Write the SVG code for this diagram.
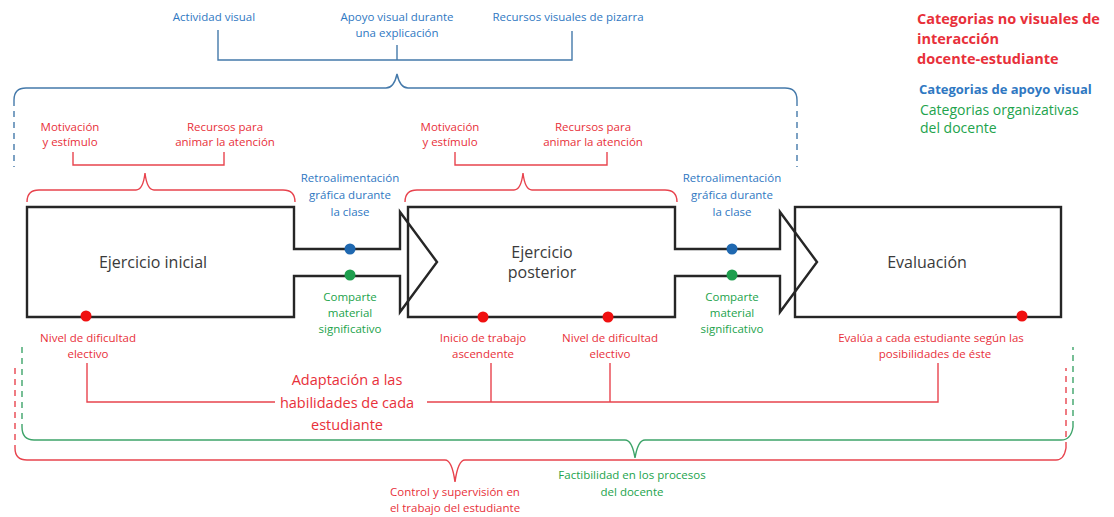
<svg xmlns="http://www.w3.org/2000/svg" width="1114" height="517" viewBox="0 0 1114 517">
  <defs>
    <style>
      text { font-family: "Open Sans", "Liberation Sans", sans-serif; text-anchor: middle; }
      .sm { font-size: 11.5px; }
      .tr { fill: #e8303a; }
      .tb { fill: #2f78c2; }
      .tg { fill: #22a34c; }
      .box { fill: none; stroke: #262626; stroke-width: 2.4; stroke-linejoin: miter; }
      .boxtxt { font-size: 16px; fill: #3a3a3a; }
      .lr { fill: none; stroke: #e8444e; stroke-width: 1.4; }
      .lb { fill: none; stroke: #4479aa; stroke-width: 1.4; }
      .lg { fill: none; stroke: #3ea46a; stroke-width: 1.4; }
      .dash { stroke-dasharray: 6 5; }
      .dr { fill: #f01010; }
      .db { fill: #1f68b0; }
      .dg { fill: #1e9e4e; }
      .leg { text-anchor: start; }
    </style>
  </defs>

  <!-- connectors: brackets and braces -->
  <g id="connectors">
    <!-- visual support bracket -->
    <path class="lb" d="M218,30 V60 H572 V31"/>
    <path class="lb" d="M397,45 V60"/>
    <path class="lb" d="M14,100 Q14,88 26,88 H386 Q394,88 397,74 Q400,88 408,88 H785 Q797,88 797,100"/>
    <path class="lb dash" d="M14,100 V167 M797,100 V167"/>

    <!-- motivation brackets -->
    <path class="lr" d="M73,152 V165 H224 V152"/>
    <path class="lr" d="M27,202 Q27,190 39,190 H136 Q143,190 145,173 Q147,190 154,190 H283 Q295,190 295,202"/>
    <path class="lr" d="M455,152 V165 H607 V152"/>
    <path class="lr" d="M405,202 Q405,190 417,190 H514 Q521,190 523,173 Q525,190 532,190 H665 Q677,190 677,202"/>

    <!-- adaptation line -->
    <path class="lr" d="M87,363 V402 H275 M427,402 H938 V363 M491,363 V402 M610,363 V402"/>

    <!-- feasibility brace (green) -->
    <path class="lg dash" d="M22,347 V427 M1073,427 V347"/>
    <path class="lg" d="M22,427 Q22,440 34,440 H625 Q632,440 635,458 Q638,440 645,440 H1061 Q1071,440 1073,427"/>

    <!-- control brace (red) -->
    <path class="lr dash" d="M15,368 V448 M1066,448 V368"/>
    <path class="lr" d="M15,448 Q15,460 27,460 H445 Q452,460 455,482 Q458,460 465,460 H1056 Q1064,460 1066,448"/>
  </g>

  <!-- stage 1 -->
  <g id="ejercicio-inicial">
    <path class="box" d="M27,207 H294 V249 H400 V212 L437,262 L400,312 V276 H294 V317 H27 Z"/>
    <text class="boxtxt" x="153" y="268">Ejercicio inicial</text>
  </g>

  <!-- stage 2 -->
  <g id="ejercicio-posterior">
    <path class="box" d="M408,207 H675 V249 H780 V212 L817,262 L780,312 V276 H675 V317 H408 Z"/>
    <text class="boxtxt" x="542" y="258">Ejercicio</text>
    <text class="boxtxt" x="542" y="278">posterior</text>
  </g>

  <!-- stage 3 -->
  <g id="evaluacion">
    <rect class="box" x="795" y="207" width="266" height="110"/>
    <text class="boxtxt" x="927" y="268">Evaluación</text>
  </g>

  <!-- markers on the flow -->
  <g id="dots">
    <circle class="db" cx="350" cy="249" r="5.5"/>
    <circle class="dg" cx="350" cy="275" r="5.5"/>
    <circle class="db" cx="732" cy="249" r="5.5"/>
    <circle class="dg" cx="732" cy="275" r="5.5"/>
    <circle class="dr" cx="86" cy="316" r="5.5"/>
    <circle class="dr" cx="483" cy="317" r="5.5"/>
    <circle class="dr" cx="608" cy="317" r="5.5"/>
    <circle class="dr" cx="1022" cy="316" r="5.5"/>
  </g>

  <!-- visual support labels -->
  <g id="visual-labels" class="sm tb">
    <text x="214" y="21">Actividad visual</text>
    <text x="397" y="21">Apoyo visual durante</text>
    <text x="397" y="37">una explicación</text>
    <text x="568" y="21">Recursos visuales de pizarra</text>
    <text x="350" y="182">Retroalimentación</text>
    <text x="350" y="199">gráfica durante</text>
    <text x="350" y="216">la clase</text>
    <text x="732" y="182">Retroalimentación</text>
    <text x="732" y="199">gráfica durante</text>
    <text x="732" y="216">la clase</text>
  </g>

  <!-- interaction labels -->
  <g id="interaction-labels" class="sm tr">
    <text x="70" y="131">Motivación</text>
    <text x="70" y="146">y estímulo</text>
    <text x="225" y="131">Recursos para</text>
    <text x="225" y="146">animar la atención</text>
    <text x="450" y="131">Motivación</text>
    <text x="450" y="146">y estímulo</text>
    <text x="593" y="131">Recursos para</text>
    <text x="593" y="146">animar la atención</text>
    <text x="88" y="342">Nivel de dificultad</text>
    <text x="88" y="358">electivo</text>
    <text x="483" y="342">Inicio de trabajo</text>
    <text x="483" y="358">ascendente</text>
    <text x="610" y="342">Nivel de dificultad</text>
    <text x="610" y="358">electivo</text>
    <text x="931" y="342">Evalúa a cada estudiante según las</text>
    <text x="935" y="358">posibilidades de éste</text>
    <text x="455" y="496">Control y supervisión en</text>
    <text x="455" y="512">el trabajo del estudiante</text>
  </g>

  <g id="adaptacion" class="tr" font-size="14.5">
    <text x="347" y="385">Adaptación a las</text>
    <text x="347" y="408">habilidades de cada</text>
    <text x="347" y="430">estudiante</text>
  </g>

  <!-- organisational labels -->
  <g id="organizational-labels" class="sm tg">
    <text x="350" y="301">Comparte</text>
    <text x="350" y="317">material</text>
    <text x="350" y="333">significativo</text>
    <text x="732" y="301">Comparte</text>
    <text x="732" y="317">material</text>
    <text x="732" y="333">significativo</text>
    <text x="632" y="479">Factibilidad en los procesos</text>
    <text x="632" y="496">del docente</text>
  </g>

  <!-- legend -->
  <g id="legend">
    <text class="leg tr" x="917" y="24" font-size="14.5" font-weight="bold">Categorias no visuales de</text>
    <text class="leg tr" x="917" y="44" font-size="14.5" font-weight="bold">interacción</text>
    <text class="leg tr" x="917" y="64" font-size="14.5" font-weight="bold">docente-estudiante</text>
    <text class="leg tb" x="919" y="94" font-size="13" font-weight="bold">Categorias de apoyo visual</text>
    <text class="leg tg" x="920" y="115" font-size="14">Categorias organizativas</text>
    <text class="leg tg" x="920" y="133" font-size="14">del docente</text>
  </g>
</svg>
